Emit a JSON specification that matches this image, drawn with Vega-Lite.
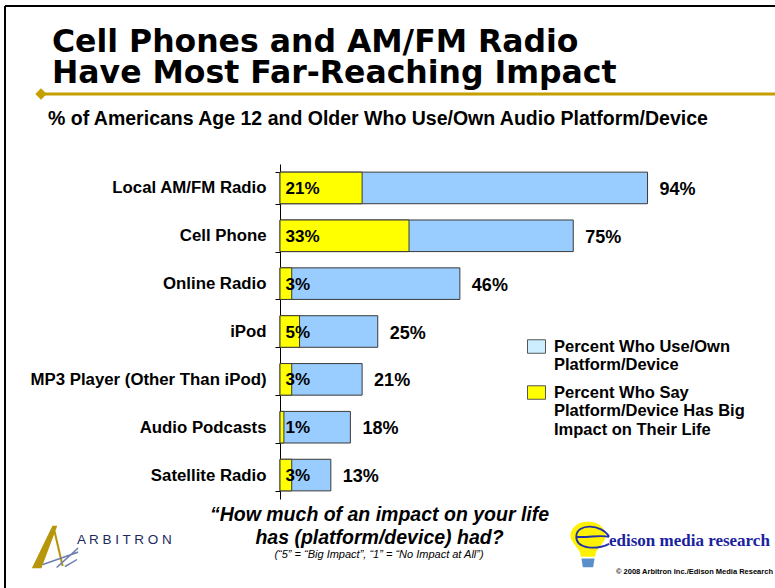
{
  "$schema": "https://vega.github.io/schema/vega-lite/v6.json",
  "width": 391,
  "height": 335,
  "autosize": {"type": "none"},
  "padding": {"left": 280, "top": 164, "right": 104, "bottom": 89},
  "background": "white",
  "config": {"view": {"stroke": null}, "font": "Liberation Sans"},
  "layer": [
    {
      "data": {
        "values": [
          {"device": "Local AM/FM Radio", "series": "use", "value": 0.94},
          {"device": "Cell Phone", "series": "use", "value": 0.75},
          {"device": "Online Radio", "series": "use", "value": 0.46},
          {"device": "iPod", "series": "use", "value": 0.25},
          {"device": "MP3 Player (Other Than iPod)", "series": "use", "value": 0.21},
          {"device": "Audio Podcasts", "series": "use", "value": 0.18},
          {"device": "Satellite Radio", "series": "use", "value": 0.13},
          {"device": "Local AM/FM Radio", "series": "impact", "value": 0.21},
          {"device": "Cell Phone", "series": "impact", "value": 0.33},
          {"device": "Online Radio", "series": "impact", "value": 0.03},
          {"device": "iPod", "series": "impact", "value": 0.05},
          {"device": "MP3 Player (Other Than iPod)", "series": "impact", "value": 0.03},
          {"device": "Audio Podcasts", "series": "impact", "value": 0.01},
          {"device": "Satellite Radio", "series": "impact", "value": 0.03}
        ]
      },
      "encoding": {
        "y": {
          "field": "device",
          "type": "nominal",
          "sort": null,
          "scale": {"paddingInner": 0.34, "paddingOuter": 0.17},
          "axis": {
            "title": null,
            "domain": true,
            "domainColor": "black",
            "domainWidth": 1,
            "ticks": true,
            "tickBand": "extent",
            "tickSize": 5,
            "tickColor": "black",
            "tickWidth": 1,
            "grid": false,
            "labelFont": "Liberation Sans",
            "labelFontSize": 16.8,
            "labelFontWeight": "bold",
            "labelColor": "black",
            "labelPadding": 9,
            "labelLimit": 0
          }
        },
        "x": {
          "field": "value",
          "type": "quantitative",
          "stack": null,
          "scale": {"domain": [0, 1], "nice": false},
          "axis": {
            "orient": "bottom",
            "domain": false,
            "ticks": false,
            "labels": false,
            "grid": false,
            "title": ["“How much of an impact on your life", "has (platform/device) had?"],
            "titleFont": "Liberation Sans",
            "titleFontSize": 19.5,
            "titleFontStyle": "italic",
            "titleFontWeight": "bold",
            "titleColor": "black",
            "titleX": 99,
            "titleY": 21,
            "titleAlign": "center",
            "titleAnchor": null,
            "titleBaseline": "alphabetic",
            "titleLineHeight": 23.5
          }
        }
      },
      "layer": [
        {
          "mark": {"type": "bar", "opacity": 0},
          "encoding": {
            "color": {
              "field": "series",
              "type": "nominal",
              "scale": {"domain": ["use", "impact"], "range": ["#CCEEFF", "#FFFF00"]},
              "legend": {
                "orient": "none",
                "legendX": 247,
                "legendY": 173,
                "title": null,
                "padding": 0,
                "symbolType": "M-1,-0.75L1,-0.75L1,0.75L-1,0.75Z",
                "symbolSize": 324,
                "symbolOpacity": 1,
                "symbolStrokeColor": "#555555",
                "symbolStrokeWidth": 1,
                "labelFont": "Liberation Sans",
                "labelFontSize": 16.5,
                "labelFontWeight": "bold",
                "labelColor": "black",
                "labelOffset": 8,
                "labelLimit": 0,
                "rowPadding": 9,
                "labelExpr": "datum.value == 'use' ? ['Percent Who Use/Own', 'Platform/Device'] : ['Percent Who Say', 'Platform/Device Has Big', 'Impact on Their Life']"
              }
            }
          }
        },
        {
          "mark": {"type": "bar", "stroke": "#3a3a3a", "strokeWidth": 1},
          "encoding": {
            "fill": {
              "field": "series",
              "type": "nominal",
              "scale": {"domain": ["use", "impact"], "range": ["#99CCFF", "#FFFF00"]},
              "legend": null
            }
          }
        },
        {
          "transform": [{"filter": "datum.series == 'use'"}],
          "mark": {"type": "text", "align": "left", "baseline": "middle", "dx": 12, "dy": 2, "font": "Liberation Sans", "fontSize": 18, "fontWeight": "bold", "color": "black"},
          "encoding": {"text": {"field": "value", "type": "quantitative", "format": ".0%"}}
        },
        {
          "transform": [{"filter": "datum.series == 'impact'"}],
          "mark": {"type": "text", "align": "left", "baseline": "middle", "dx": 5.5, "dy": 1, "font": "Liberation Sans", "fontSize": 17, "fontWeight": "bold", "color": "black"},
          "encoding": {
            "x": {"datum": 0},
            "text": {"field": "value", "type": "quantitative", "format": ".0%"}
          }
        }
      ]
    },
    {
      "data": {"values": [{}]},
      "mark": {"type": "text", "text": "Cell Phones and AM/FM Radio", "align": "left", "baseline": "alphabetic", "font": "DejaVu Sans", "fontSize": 31.5, "fontWeight": "bold", "color": "black"},
      "encoding": {"x": {"value": -228}, "y": {"value": -112}}
    },
    {
      "data": {"values": [{}]},
      "mark": {"type": "text", "text": "Have Most Far-Reaching Impact", "align": "left", "baseline": "alphabetic", "font": "DejaVu Sans", "fontSize": 31.5, "fontWeight": "bold", "color": "black"},
      "encoding": {"x": {"value": -228}, "y": {"value": -81}}
    },
    {
      "data": {"values": [{}]},
      "mark": {"type": "text", "text": "% of Americans Age 12 and Older Who Use/Own Audio Platform/Device", "align": "left", "baseline": "alphabetic", "font": "Liberation Sans", "fontSize": 19.5, "fontWeight": "bold", "color": "black"},
      "encoding": {"x": {"value": -232}, "y": {"value": -39}}
    },
    {
      "data": {"values": [{}]},
      "mark": {"type": "rule", "color": "black", "strokeWidth": 2},
      "encoding": {"x": {"value": -275}, "x2": {"value": 495}, "y": {"value": -158}}
    },
    {
      "data": {"values": [{}]},
      "mark": {"type": "rule", "color": "black", "strokeWidth": 2},
      "encoding": {"x": {"value": -275}, "y": {"value": -158}, "y2": {"value": 424}}
    },
    {
      "data": {"values": [{}]},
      "mark": {"type": "rule", "color": "#C4A000", "strokeWidth": 3},
      "encoding": {"x": {"value": -239}, "x2": {"value": 495}, "y": {"value": -70}}
    },
    {
      "data": {"values": [{}]},
      "mark": {"type": "point", "shape": "diamond", "filled": true, "color": "#C4A000", "size": 130, "opacity": 1},
      "encoding": {"x": {"value": -239}, "y": {"value": -70}}
    },
    {
      "data": {"values": [{}]},
      "mark": {"type": "text", "text": "(“5” = “Big Impact”, “1” = “No Impact at All”)", "align": "center", "baseline": "alphabetic", "font": "Liberation Sans", "fontSize": 11, "fontStyle": "italic", "color": "black"},
      "encoding": {"x": {"value": 99}, "y": {"value": 394}}
    },
    {
      "data": {"values": [{}]},
      "mark": {"type": "point", "shape": "M-0.95,1 L0.02,-1 L0.25,-1 L-0.5,1 Z M0.12,-0.95 L0.55,0.9 L0.45,0.9 L0.06,-0.78 Z", "filled": true, "color": "#B8960C", "size": 1800, "opacity": 1},
      "encoding": {"x": {"value": -228}, "y": {"value": 383}}
    },
    {
      "data": {"values": [{}]},
      "mark": {"type": "point", "shape": "M-0.75,0.8 L0.95,0.2 L0.95,0.28 L-0.7,0.86 Z M-0.1,0.95 L0.95,0.0 L0.95,0.1 L-0.02,0.98 Z M0.3,0.9 L0.9,0.55 L0.9,0.62 L0.35,0.95 Z", "filled": true, "color": "#6C7DB0", "size": 1800, "opacity": 1},
      "encoding": {"x": {"value": -222}, "y": {"value": 383}}
    },
    {
      "data": {"values": [{}]},
      "mark": {"type": "text", "text": "A R B I T R O N", "align": "left", "baseline": "alphabetic", "font": "Liberation Sans", "fontSize": 13.5, "color": "#1C2A5C"},
      "encoding": {"x": {"value": -203}, "y": {"value": 380}}
    },
    {
      "data": {"values": [{}]},
      "mark": {"type": "point", "shape": "M0,-1 C0.55,-1 0.75,-0.6 0.75,-0.4 C0.75,-0.05 0.3,0.15 0.3,0.5 L-0.3,0.5 C-0.3,0.15 -0.75,-0.05 -0.75,-0.4 C-0.75,-0.6 -0.55,-1 0,-1 Z", "filled": true, "color": "#FFF200", "size": 2200, "opacity": 1},
      "encoding": {"x": {"value": 308}, "y": {"value": 381}}
    },
    {
      "data": {"values": [{}]},
      "mark": {"type": "point", "shape": "M-0.28,0.58 L0.28,0.58 L0.22,0.95 L-0.22,0.95 Z", "filled": true, "color": "#5B8FC9", "size": 2200, "opacity": 1},
      "encoding": {"x": {"value": 308}, "y": {"value": 381}}
    },
    {
      "data": {"values": [{}]},
      "mark": {"type": "point", "shape": "M0.9,-0.35 C0.6,-0.9 -0.5,-0.95 -0.5,-0.35 C-0.5,0.2 0.4,0.2 0.9,-0.05 M-0.5,-0.35 C0,-0.3 0.5,-0.45 0.9,-0.35", "filled": false, "color": "#2233AA", "strokeWidth": 1.8, "size": 2200, "opacity": 1},
      "encoding": {"x": {"value": 308}, "y": {"value": 381}}
    },
    {
      "data": {"values": [{}]},
      "mark": {"type": "text", "text": "edison media research", "align": "left", "baseline": "alphabetic", "font": "Liberation Serif", "fontSize": 17, "fontWeight": "bold", "color": "#1A22A0"},
      "encoding": {"x": {"value": 329}, "y": {"value": 382}}
    },
    {
      "data": {"values": [{}]},
      "mark": {"type": "text", "text": "© 2008 Arbitron Inc./Edison Media Research", "align": "left", "baseline": "alphabetic", "font": "Liberation Sans", "fontSize": 7.5, "fontWeight": "bold", "color": "black"},
      "encoding": {"x": {"value": 336}, "y": {"value": 410}}
    }
  ]
}
